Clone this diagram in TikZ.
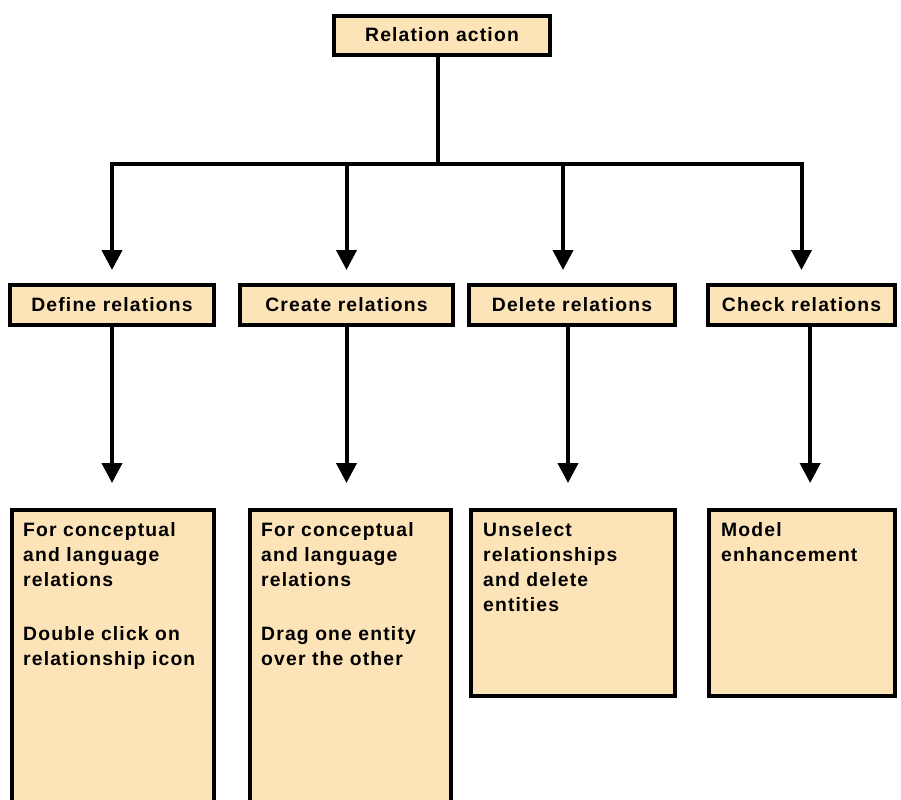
\documentclass[tikz,border=0pt]{standalone}
\usepackage{fontspec}
\setmainfont{Liberation Sans}[LetterSpace=6]
\usepackage{tikz}
\usetikzlibrary{arrows.meta}
\definecolor{peach}{RGB}{252,228,184}
\tikzstyle{wire} = [line width=0.12cm, line join=miter]
\tikzstyle{arrow} = [wire,-{Triangle[length=0.6cm,width=0.6cm]}]
\tikzstyle{box} = [draw, line width=0.12cm, fill=peach, inner sep=0pt, minimum height=1.2cm, font=\fontsize{16.5pt}{21.3pt}\selectfont\bfseries]
\tikzstyle{notebox} = [draw, line width=0.12cm, fill=peach, inner sep=0pt]
\tikzstyle{notetext} = [inner sep=0pt, align=left, anchor=north west, font=\fontsize{16.5pt}{21.3pt}\selectfont\bfseries]

\begin{document}
\begin{tikzpicture}[x=0.03cm,y=-0.03cm]
\useasboundingbox (0,0) rectangle (901,799);
\clip (0,0) rectangle (901,799);

% top
\node[box, minimum width=6.48cm, minimum height=1.17cm] (root) at (442,35) {Relation action};
\coordinate (bar) at (0,164);

% actions
\node[box, minimum width=6.12cm] (define) at (112,305) {Define relations};
\node[box, minimum width=6.39cm] (create) at (346.5,305) {Create relations};
\node[box, minimum width=6.18cm] (delete) at (572,305) {Delete relations};
\node[box, minimum width=5.61cm] (check) at (801.5,305) {Check relations};

% notes
\node[notebox, minimum width=6.06cm, minimum height=9cm] (b1) at (113,660) {};
\node[notebox, minimum width=6.03cm, minimum height=9cm] (b2) at (350.5,660) {};
\node[notebox, minimum width=6.12cm, minimum height=5.58cm] (b3) at (573,603) {};
\node[notebox, minimum width=5.58cm, minimum height=5.58cm] (b4) at (802,603) {};

\node[notetext] (n1) at ([shift={(13,14)}]b1.north west) {For conceptual\\and language\\relations\\[0.87cm]Double click on\\relationship icon};
\node[notetext] (n2) at ([shift={(13,14)}]b2.north west) {For conceptual\\and language\\relations\\[0.87cm]Drag one entity\\over the other};
\node[notetext] (n3) at ([shift={(14,14)}]b3.north west) {Unselect\\relationships\\and delete\\entities};
\node[notetext] (n4) at ([shift={(14,14)}]b4.north west) {Model\\enhancement};

% tree
\draw[arrow, shorten >=0.39cm] ([xshift=-0.12cm]root.south) -- ([xshift=-0.12cm]root.south |- bar) -| (define.north);
\draw[arrow, shorten >=0.39cm] ([xshift=-0.12cm]root.south) -- ([xshift=-0.12cm]root.south |- bar) -| (check.north);
\draw[arrow, shorten >=0.39cm] (create.north |- bar) -- (create.north);
\draw[arrow, shorten >=0.39cm] ([xshift=-0.27cm]delete.north |- bar) -- ([xshift=-0.27cm]delete.north);

% down to notes
\draw[arrow, shorten >=0.75cm] (define.south) -- (define.south |- b1.north);
\draw[arrow, shorten >=0.75cm] (create.south) -- (create.south |- b2.north);
\draw[arrow, shorten >=0.75cm] ([xshift=-0.12cm]delete.south) -- ([xshift=-0.12cm]delete.south |- b3.north);
\draw[arrow, shorten >=0.75cm] ([xshift=0.26cm]check.south) -- ([xshift=0.26cm]check.south |- b4.north);
\end{tikzpicture}
\end{document}
